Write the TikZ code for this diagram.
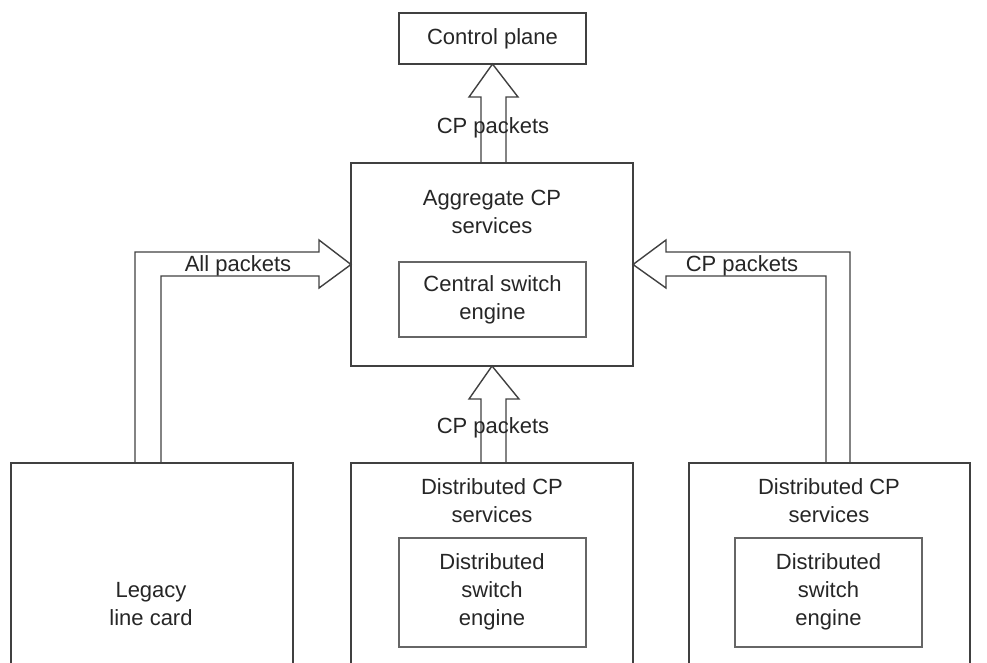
\documentclass[tikz,border=0pt]{standalone}
\usepackage{fontspec}
\setmainfont{Liberation Sans}
\begin{document}
\begin{tikzpicture}[x=1pt,y=-1pt,
  box/.style={draw=black!75,line width=1.5pt,rectangle,inner sep=0pt,outer sep=0pt},
  inbox/.style={draw=black!60,line width=1.1pt,rectangle,inner sep=0pt,outer sep=0pt},
  lbl/.style={text=black!85,align=center,inner sep=0pt,font=\fontsize{22}{28}\selectfont},
  arr/.style={draw=black!75,line width=1.4pt,line join=miter}]
\useasboundingbox (0,0) rectangle (987,662);
\clip (0,0) rectangle (987,662);
% boxes
\node[box,minimum width=187,minimum height=51] (cp) at (492.5,38.5) {};
\node[box,minimum width=282,minimum height=203] (agg) at (492,264.5) {};
\node[inbox,minimum width=187,minimum height=75] (cse) at (492.5,299.5) {};
\node[box,minimum width=282,minimum height=260] (leg) at (152,593) {};
\node[box,minimum width=282,minimum height=260] (dist1) at (492,593) {};
\node[inbox,minimum width=187,minimum height=109] (dse1) at (492.5,592.5) {};
\node[box,minimum width=281,minimum height=260] (dist2) at (829.5,593) {};
\node[inbox,minimum width=187,minimum height=109] (dse2) at (828.5,592.5) {};
% texts
\node[lbl] (cpt) at (cp.center) {Control plane};
\node[lbl] (aggt) at (492,212) {Aggregate CP\\services};
\node[lbl] (cset) at (cse.center) {Central switch\\engine};
\node[lbl] (legt) at (151,604) {Legacy\\line card};
\node[lbl] (d1t) at (492,501) {Distributed CP\\services};
\node[lbl] (dse1t) at (492,591.5) {Distributed\\switch\\engine};
\node[lbl] (d2t) at (829,501) {Distributed CP\\services};
\node[lbl] (dse2t) at (828.5,591.5) {Distributed\\switch\\engine};
% arrows
\draw[arr] (481,163) -- (481,97) -- (469,97) -- (cp.south) -- (518,97) -- (506,97) -- (506,163) -- cycle;
\draw[arr] (481,463) -- (481,399) -- (469,399) -- (agg.south) -- (519,399) -- (506,399) -- (506,463) -- cycle;
\draw[arr] (135,463) -- (135,252) -- (319,252) -- (319,240) -- (agg.west) -- (319,288) -- (319,276) -- (161,276) -- (161,463) -- cycle;
\draw[arr] (850,463) -- (850,252) -- (666,252) -- (666,240) -- (agg.east) -- (666,288) -- (666,276) -- (826,276) -- (826,463) -- cycle;
% arrow labels
\node[lbl] (l1) at (493,128) {CP packets};
\node[lbl] (l2) at (493,428) {CP packets};
\node[lbl] (l3) at (238,266) {All packets};
\node[lbl] (l4) at (742,266) {CP packets};
\end{tikzpicture}
\end{document}
